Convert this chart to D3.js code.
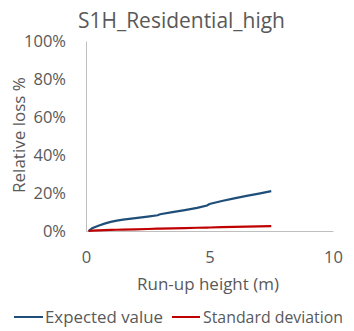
<!DOCTYPE html>
<html><head><meta charset="utf-8">
<script src="https://cdn.jsdelivr.net/npm/d3@7"></script>
<style>body{margin:0;background:#fff}text{font-family:"Open Sans",Lato,sans-serif;fill:#595959}</style>
</head><body><svg id="c" width="354" height="331"></svg>
<script>
const runup = [0.1,0.25,0.5,0.75,1.0,1.25,1.5,2.0,2.5,2.9,3.0,3.5,4.0,4.5,4.9,5.0,5.5,6.0,6.5,7.0,7.5];
const expectedValue = [0,1.5,2.8,3.9,4.8,5.5,6.0,6.8,7.6,8.3,8.8,9.9,11.0,12.2,13.4,14.2,15.8,17.2,18.5,19.7,21.0];
const stdDev = [0,0.2,0.35,0.45,0.55,0.65,0.75,0.9,1.05,1.2,1.25,1.4,1.55,1.7,1.8,1.85,2.0,2.15,2.3,2.45,2.6];
const xTicks = [0,5,10];
const yTicks = [0,20,40,60,80,100];
const seriesNames = ["Expected value","Standard deviation"];
const colors = ["#1F4E79","#C00000"];

const svg = d3.select("#c");
const x = d3.scaleLinear().domain([0,10]).range([86,333]);
const y = d3.scaleLinear().domain([0,100]).range([231,41]);

function fit(sel, w){ sel.style("font-size","20px"); const l = sel.node().getComputedTextLength(); sel.style("font-size",(20*w/l).toFixed(2)+"px"); return 20*w/l; }

fit(svg.append("text").attr("x",181.5).attr("y",28).attr("text-anchor","middle").text("S1H_Residential_high"), 207);

const probe = svg.append("text").text("100%"); const tfs = fit(probe, 42); probe.remove();

const ya = svg.append("g").attr("transform","translate(86,0)").call(d3.axisLeft(y).tickValues(yTicks).tickFormat(d=>d+"%").tickSize(0).tickPadding(20));
ya.select(".domain").attr("stroke","#bfbfbf");
ya.selectAll("text").style("font-size",tfs+"px").style("fill","#595959").attr("font-family",null);

const xa = svg.append("g").attr("transform","translate(0,231)").call(d3.axisBottom(x).tickValues(xTicks).tickSize(0).tickPadding(0));
xa.select(".domain").attr("stroke","#bfbfbf");
xa.selectAll("text").attr("dy",null).attr("y",32).style("font-size",tfs+"px").style("fill","#595959").attr("font-family",null);

fit(svg.append("text").attr("transform","translate(25,135) rotate(-90)").attr("text-anchor","middle").text("Relative loss %"), 116);
fit(svg.append("text").attr("x",208).attr("y",290).attr("text-anchor","middle").text("Run-up height (m)"), 142);

const line = d3.line().x(d=>x(d[0])).y(d=>y(d[1]));
[expectedValue, stdDev].forEach((s,i)=>{
  svg.append("path").datum(runup.map((r,j)=>[r,s[j]])).attr("d",line).attr("fill","none").attr("stroke",colors[i]).attr("stroke-width",2.2);
});

const leg = [[14,43,45,118],[172,200,203,140]];
seriesNames.forEach((n,i)=>{
  svg.append("line").attr("x1",leg[i][0]).attr("x2",leg[i][1]).attr("y1",317).attr("y2",317).attr("stroke",colors[i]).attr("stroke-width",2);
  fit(svg.append("text").attr("x",leg[i][2]).attr("y",323).text(n), leg[i][3]);
});
</script></body></html>
